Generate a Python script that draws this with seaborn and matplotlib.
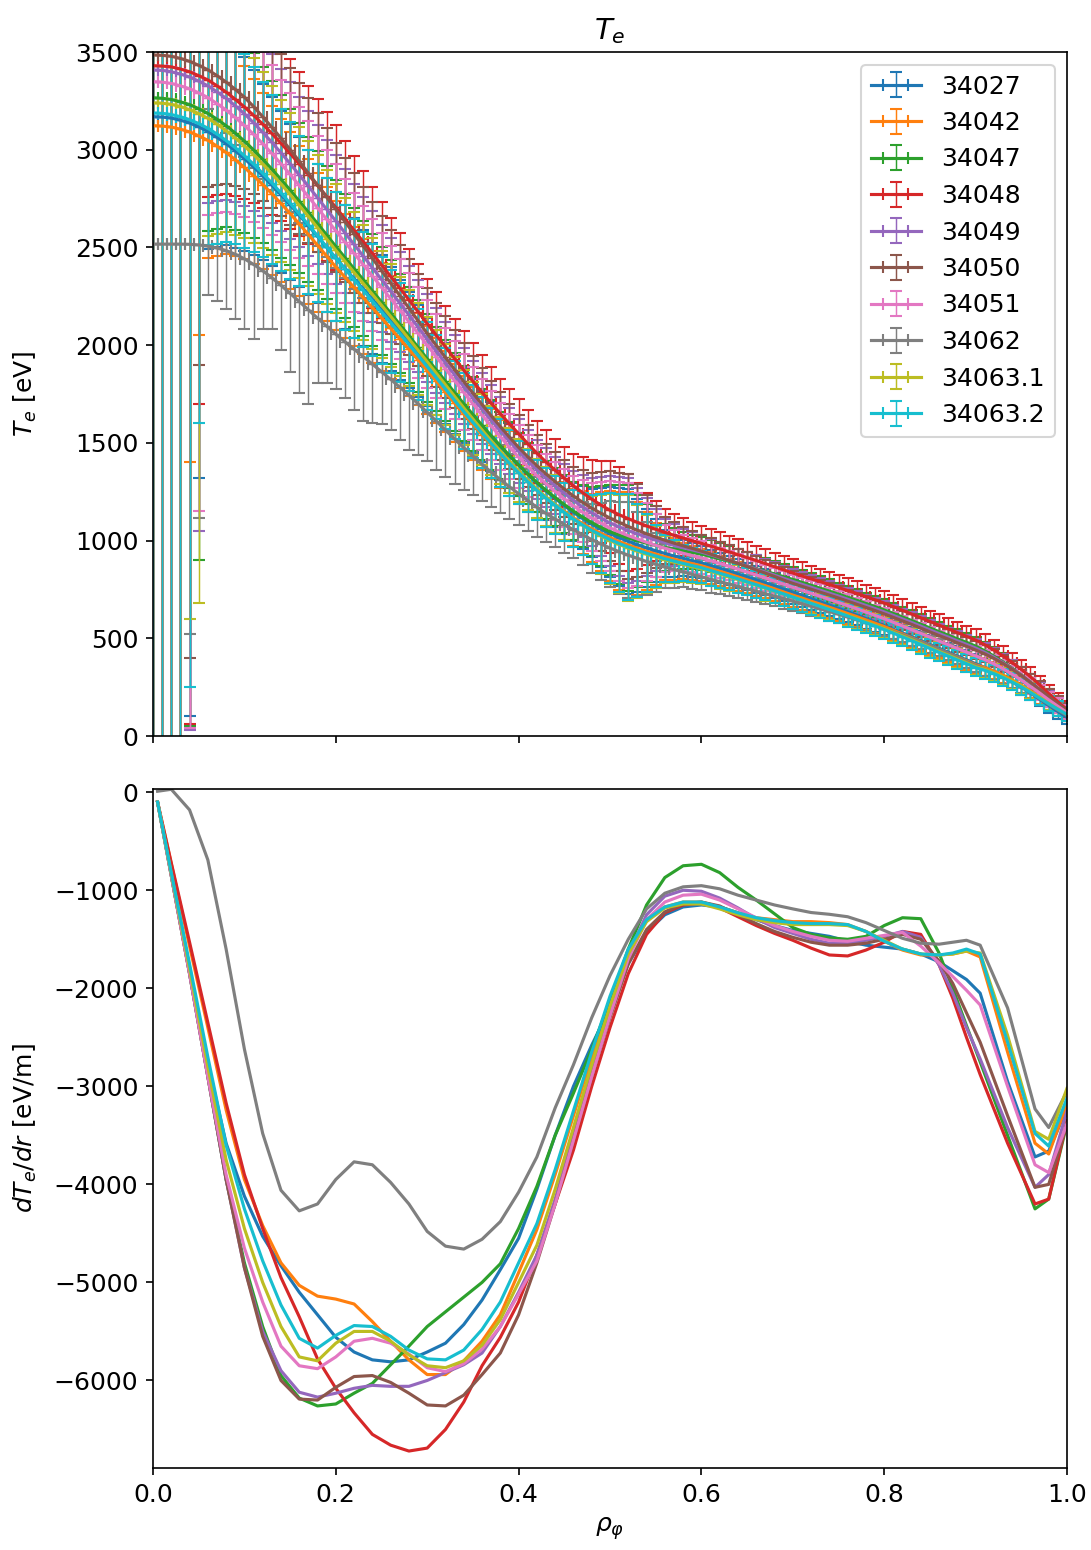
import matplotlib
matplotlib.use("Agg")
import matplotlib.pyplot as plt
import pandas as pd
import seaborn as sns

plt.rcParams.update({
    "font.family": ["DejaVu Sans"],
    "font.size": 12,
    "axes.titlesize": 14,
    "axes.labelsize": 12,
    "xtick.labelsize": 12,
    "ytick.labelsize": 12,
    "legend.fontsize": 12,
})

shots = ["34027", "34042", "34047", "34048", "34049", "34050", "34051",
         "34062", "34063.1", "34063.2"]

# ---------------- top panel: Te fits with error bars ----------------
rho_te = [0.00, 0.01, 0.02, 0.03, 0.04, 0.05, 0.06, 0.07, 0.08, 0.09,
          0.10, 0.11, 0.12, 0.13, 0.14, 0.15, 0.16, 0.17, 0.18, 0.19,
          0.20, 0.21, 0.22, 0.23, 0.24, 0.25, 0.26, 0.27, 0.28, 0.29,
          0.30, 0.31, 0.32, 0.33, 0.34, 0.35, 0.36, 0.37, 0.38, 0.39,
          0.40, 0.41, 0.42, 0.43, 0.44, 0.45, 0.46, 0.47, 0.48, 0.49,
          0.50, 0.51, 0.52, 0.53, 0.54, 0.55, 0.56, 0.57, 0.58, 0.59,
          0.60, 0.61, 0.62, 0.63, 0.64, 0.65, 0.66, 0.67, 0.68, 0.69,
          0.70, 0.71, 0.72, 0.73, 0.74, 0.75, 0.76, 0.77, 0.78, 0.79,
          0.80, 0.81, 0.82, 0.83, 0.84, 0.85, 0.86, 0.87, 0.88, 0.89,
          0.90, 0.91, 0.92, 0.93, 0.94, 0.95, 0.96, 0.97, 0.98, 0.99, 1.00]

te_34027 = [3169, 3167, 3162, 3151, 3137, 3117, 3093, 3063, 3031, 2994,
            2954, 2912, 2867, 2819, 2770, 2718, 2665, 2611, 2556, 2501,
            2445, 2392, 2339, 2287, 2234, 2181, 2128, 2074, 2020, 1965,
            1910, 1855, 1799, 1743, 1688, 1635, 1582, 1531, 1481, 1433,
            1387, 1340, 1295, 1254, 1216, 1179, 1144, 1113, 1084, 1059,
            1035, 1015, 996, 979, 963, 948, 934, 921, 909, 897,
            886, 872, 858, 844, 829, 814, 799, 784, 768, 752,
            736, 720, 703, 687, 670, 653, 636, 619, 601, 583,
            565, 546, 527, 508, 488, 468, 448, 429, 409, 390,
            370, 351, 331, 307, 280, 251, 220, 188, 156, 125, 95]
te_34042 = [3123, 3121, 3116, 3105, 3091, 3071, 3048, 3018, 2986, 2949,
            2909, 2867, 2822, 2775, 2725, 2674, 2620, 2566, 2511, 2456,
            2400, 2348, 2295, 2243, 2191, 2139, 2086, 2033, 1979, 1925,
            1870, 1815, 1759, 1703, 1648, 1595, 1542, 1491, 1441, 1393,
            1347, 1302, 1259, 1220, 1184, 1149, 1116, 1087, 1060, 1037,
            1015, 995, 977, 961, 945, 931, 917, 905, 893, 882,
            871, 857, 843, 829, 814, 799, 784, 769, 753, 737,
            721, 706, 690, 675, 659, 643, 627, 611, 594, 577,
            560, 541, 522, 503, 483, 463, 443, 424, 404, 385,
            365, 350, 332, 311, 287, 260, 231, 201, 169, 140, 110]
te_34047 = [3266, 3263, 3257, 3245, 3231, 3210, 3186, 3156, 3123, 3085,
            3044, 2999, 2951, 2901, 2848, 2794, 2737, 2680, 2622, 2564,
            2505, 2448, 2391, 2335, 2278, 2221, 2164, 2106, 2048, 1989,
            1930, 1873, 1815, 1757, 1700, 1645, 1590, 1537, 1485, 1435,
            1387, 1341, 1297, 1257, 1220, 1184, 1150, 1120, 1092, 1067,
            1045, 1028, 1013, 1000, 987, 976, 965, 956, 947, 939,
            931, 919, 907, 895, 882, 869, 856, 843, 829, 815,
            801, 786, 771, 756, 741, 726, 710, 694, 678, 662,
            645, 627, 609, 591, 572, 553, 534, 516, 497, 479,
            460, 436, 409, 379, 346, 311, 273, 236, 198, 161, 125]
te_34048 = [3430, 3428, 3424, 3413, 3399, 3379, 3357, 3327, 3295, 3258,
            3219, 3176, 3131, 3083, 3033, 2981, 2927, 2873, 2817, 2761,
            2705, 2646, 2587, 2529, 2470, 2411, 2352, 2292, 2232, 2171,
            2110, 2050, 1991, 1931, 1872, 1815, 1758, 1703, 1649, 1597,
            1547, 1496, 1447, 1402, 1360, 1319, 1280, 1245, 1212, 1182,
            1155, 1132, 1112, 1093, 1075, 1058, 1042, 1027, 1013, 999,
            986, 972, 958, 943, 928, 913, 898, 882, 866, 850,
            834, 819, 804, 790, 775, 760, 744, 729, 713, 697,
            680, 662, 643, 624, 605, 586, 567, 548, 529, 510,
            491, 467, 440, 410, 376, 341, 303, 262, 217, 175, 135]
te_34049 = [3408, 3406, 3399, 3387, 3372, 3351, 3327, 3296, 3263, 3225,
            3184, 3138, 3089, 3038, 2984, 2929, 2871, 2813, 2754, 2695,
            2635, 2575, 2515, 2456, 2396, 2336, 2276, 2215, 2154, 2092,
            2030, 1969, 1909, 1848, 1788, 1729, 1672, 1616, 1561, 1508,
            1457, 1408, 1362, 1320, 1280, 1242, 1205, 1172, 1142, 1115,
            1090, 1070, 1051, 1034, 1018, 1003, 989, 976, 964, 952,
            941, 927, 913, 899, 884, 869, 854, 839, 823, 807,
            791, 776, 761, 746, 731, 716, 700, 684, 668, 652,
            635, 617, 599, 581, 562, 543, 524, 506, 487, 469,
            450, 428, 403, 375, 344, 311, 275, 237, 196, 158, 120]
te_34050 = [3485, 3483, 3478, 3467, 3452, 3432, 3409, 3379, 3346, 3309,
            3269, 3221, 3169, 3115, 3059, 3001, 2941, 2880, 2819, 2757,
            2695, 2632, 2569, 2507, 2444, 2381, 2318, 2254, 2190, 2125,
            2060, 1998, 1937, 1875, 1814, 1755, 1696, 1639, 1583, 1529,
            1477, 1429, 1383, 1341, 1302, 1264, 1228, 1196, 1166, 1140,
            1115, 1093, 1072, 1053, 1035, 1018, 1002, 987, 973, 960,
            946, 931, 915, 899, 883, 867, 850, 833, 816, 798,
            781, 766, 751, 736, 721, 706, 690, 674, 658, 642,
            625, 607, 589, 571, 552, 533, 514, 496, 477, 459,
            440, 420, 397, 371, 342, 310, 275, 239, 201, 165, 130]
te_34051 = [3348, 3346, 3339, 3327, 3312, 3291, 3267, 3236, 3203, 3165,
            3124, 3079, 3031, 2981, 2928, 2874, 2817, 2760, 2702, 2644,
            2585, 2527, 2469, 2412, 2354, 2296, 2238, 2179, 2120, 2060,
            2000, 1940, 1879, 1818, 1758, 1700, 1642, 1586, 1531, 1478,
            1427, 1379, 1333, 1291, 1252, 1214, 1178, 1146, 1116, 1090,
            1065, 1044, 1025, 1008, 991, 976, 961, 948, 935, 923,
            911, 897, 883, 869, 854, 839, 824, 809, 793, 777,
            761, 746, 730, 715, 699, 683, 667, 651, 634, 617,
            600, 582, 563, 544, 525, 506, 486, 467, 448, 429,
            410, 391, 369, 344, 316, 286, 253, 220, 185, 152, 120]
te_34062 = [2517, 2517, 2517, 2517, 2516, 2513, 2507, 2497, 2484, 2465,
            2442, 2413, 2381, 2345, 2306, 2265, 2223, 2181, 2138, 2097,
            2056, 2017, 1979, 1941, 1903, 1864, 1825, 1785, 1743, 1700,
            1656, 1611, 1565, 1520, 1475, 1432, 1390, 1350, 1312, 1275,
            1240, 1205, 1170, 1139, 1110, 1082, 1055, 1030, 1005, 983,
            962, 943, 925, 909, 893, 879, 865, 852, 840, 827,
            815, 802, 790, 778, 766, 753, 741, 728, 716, 703,
            690, 677, 664, 650, 637, 623, 609, 595, 580, 565,
            550, 534, 518, 500, 481, 463, 444, 423, 402, 382,
            362, 342, 322, 300, 276, 250, 222, 192, 162, 133, 105]
te_34063_1 = [3240, 3238, 3232, 3221, 3205, 3185, 3161, 3131, 3097, 3060,
              3019, 2975, 2927, 2877, 2825, 2771, 2715, 2659, 2601, 2543,
              2485, 2429, 2372, 2316, 2260, 2204, 2147, 2090, 2032, 1974,
              1915, 1856, 1797, 1738, 1679, 1622, 1566, 1511, 1458, 1406,
              1357, 1309, 1264, 1222, 1184, 1146, 1111, 1079, 1050, 1024,
              1000, 980, 962, 946, 930, 916, 902, 890, 878, 867,
              856, 843, 829, 815, 801, 787, 772, 757, 742, 727,
              711, 696, 680, 665, 649, 633, 617, 601, 584, 567,
              550, 531, 512, 493, 473, 453, 433, 414, 394, 375,
              355, 341, 324, 304, 281, 256, 227, 198, 167, 138, 110]
te_34063_2 = [3188, 3186, 3180, 3169, 3154, 3134, 3110, 3080, 3047, 3010,
              2969, 2926, 2879, 2830, 2779, 2726, 2671, 2616, 2559, 2502,
              2445, 2390, 2335, 2281, 2226, 2171, 2116, 2060, 2004, 1947,
              1890, 1833, 1775, 1717, 1660, 1605, 1550, 1497, 1445, 1395,
              1347, 1301, 1257, 1217, 1180, 1144, 1110, 1080, 1052, 1028,
              1005, 985, 967, 951, 935, 921, 907, 895, 883, 872,
              861, 847, 833, 819, 804, 789, 774, 759, 743, 727,
              711, 695, 679, 663, 647, 631, 614, 597, 580, 563,
              545, 526, 507, 488, 468, 448, 428, 409, 389, 370,
              350, 336, 319, 299, 276, 251, 223, 194, 165, 137, 110]

te_fit = dict(zip(shots, [te_34027, te_34042, te_34047, te_34048, te_34049,
                          te_34050, te_34051, te_34062, te_34063_1, te_34063_2]))

# error bars: first six radial points (rho 0 .. 0.05) per shot
core_lo = {"34027": [3600, 3600, 3500, 3500, 3037, 1797],
           "34042": [3600, 3600, 3500, 3500, 1691, 1021],
           "34047": [3600, 3600, 3500, 3500, 3181, 2310],
           "34048": [3600, 3600, 3500, 3500, 3339, 1679],
           "34049": [3600, 3600, 3500, 3500, 3342, 2301],
           "34050": [3600, 3600, 3500, 3500, 3052, 1532],
           "34051": [3600, 3600, 3500, 3500, 3272, 2141],
           "34062": [3000, 3000, 2900, 2900, 1996, 1398],
           "34063.1": [3600, 3600, 3500, 3500, 2605, 2505],
           "34063.2": [3600, 3600, 3500, 3500, 2904, 1534]}
core_hi = {s: [1500, 1500, 1300, 1300, 1000, 800] for s in shots}
core_hi["34062"] = [1500, 1500, 1300, 1300, 1100, 1000]

# rho 0.06 .. 1.00
tail_lo = [600, 560, 520, 495, 470, 450, 430, 415, 400, 385,
           370, 355, 340, 330, 320, 310, 300, 290, 280, 270,
           260, 250, 240, 230, 220, 212, 205, 198, 190, 185,
           180, 175, 170, 165, 160, 155, 150, 148, 145, 145,
           145, 155, 170, 195, 220, 250, 270, 240, 200, 160,
           120, 105, 90, 85, 80, 78, 75, 72, 70, 68,
           66, 65, 63, 62, 60, 59, 58, 57, 56, 55,
           54, 53, 52, 51, 50, 49, 48, 48, 47, 47,
           46, 46, 45, 45, 44, 43, 42, 41, 40, 39,
           38, 37, 36, 36, 35]
tail_hi = [700, 650, 600, 560, 520, 495, 470, 450, 430, 415,
           400, 385, 370, 355, 340, 325, 310, 300, 290, 280,
           270, 260, 250, 240, 230, 220, 210, 202, 195, 190,
           185, 180, 175, 170, 165, 160, 155, 152, 150, 150,
           150, 165, 180, 210, 240, 255, 270, 235, 200, 160,
           120, 108, 95, 90, 85, 82, 80, 78, 75, 72,
           70, 68, 67, 65, 64, 63, 62, 61, 60, 59,
           58, 57, 56, 55, 54, 53, 52, 52, 51, 50,
           50, 49, 49, 48, 48, 47, 46, 45, 44, 43,
           42, 41, 40, 40, 40]
tail_hi_34048 = [700, 675, 650, 625, 600, 575, 550, 525, 500, 485,
                 470, 455, 440, 430, 420, 400, 380, 360, 340, 320,
                 300, 280, 260, 245, 230, 220, 210, 205, 200, 195,
                 190, 185, 180, 178, 175, 170, 165, 162, 160, 162,
                 165, 182, 200, 225, 250, 245, 230, 200, 170, 145,
                 120, 110, 100, 95, 90, 88, 85, 82, 80, 78,
                 75, 74, 72, 71, 70, 69, 68, 67, 66, 65,
                 64, 63, 62, 61, 60, 59, 58, 58, 57, 56,
                 56, 55, 55, 54, 54, 53, 52, 51, 50, 49,
                 48, 47, 46, 45, 45]
tail_lo_34062 = [250, 270, 300, 330, 360, 380, 300, 260, 330, 400,
                 470, 480, 330, 290, 280, 290, 310, 330, 300, 270,
                 260, 270, 280, 260, 250, 250, 240, 230, 215, 200,
                 190, 180, 170, 165, 160, 155, 150, 148, 145, 145,
                 145, 155, 170, 185, 200, 215, 220, 195, 170, 140,
                 110, 95, 80, 75, 70, 68, 65, 62, 60, 58,
                 56, 55, 53, 52, 50, 49, 48, 47, 46, 45,
                 44, 43, 42, 41, 40, 39, 38, 38, 37, 37,
                 36, 36, 35, 35, 34, 34, 33, 33, 32, 32,
                 31, 31, 30, 30, 30]
xerr_te = 0.005

# ---------------- bottom panel: dTe/dr ----------------
rho_d = [0.005, 0.02, 0.04, 0.06, 0.08, 0.10, 0.12, 0.14, 0.16, 0.18,
         0.20, 0.22, 0.24, 0.26, 0.28, 0.30, 0.32, 0.34, 0.36, 0.38,
         0.40, 0.42, 0.44, 0.46, 0.48, 0.50, 0.52, 0.54, 0.56, 0.58,
         0.60, 0.62, 0.64, 0.66, 0.68, 0.70, 0.72, 0.74, 0.76, 0.78,
         0.80, 0.82, 0.84, 0.86, 0.875, 0.89, 0.905, 0.935, 0.965, 0.98, 1.00]

dte_34027 = [-100, -820, -1790, -2760, -3580, -4120, -4530, -4830, -5100, -5330, -5560, -5710, -5790, -5810, -5790, -5710, -5620, -5430, -5180, -4870, -4550, -4050, -3500, -3000, -2580, -2200, -1750, -1430, -1250, -1170, -1150, -1170, -1230, -1300, -1360, -1410, -1440, -1470, -1520, -1560, -1580, -1600, -1650, -1730, -1820, -1910, -2050, -2950, -3720, -3660, -3220]
dte_34042 = [-100, -730, -1570, -2400, -3240, -3950, -4420, -4800, -5030, -5140, -5170, -5220, -5400, -5600, -5790, -5940, -5940, -5800, -5600, -5330, -4900, -4460, -3900, -3300, -2700, -2120, -1620, -1310, -1170, -1120, -1120, -1170, -1230, -1280, -1300, -1320, -1320, -1330, -1350, -1420, -1520, -1610, -1660, -1660, -1650, -1620, -1680, -2650, -3580, -3690, -3180]
dte_34047 = [-100, -850, -1850, -2900, -3950, -4800, -5450, -5950, -6180, -6260, -6240, -6130, -6030, -5840, -5650, -5450, -5300, -5150, -5000, -4810, -4450, -4020, -3500, -3070, -2620, -2130, -1600, -1150, -870, -750, -735, -820, -970, -1100, -1240, -1380, -1450, -1485, -1500, -1470, -1360, -1280, -1290, -1640, -2000, -2380, -2750, -3500, -4250, -4150, -3380]
dte_34048 = [-100, -720, -1530, -2350, -3170, -3900, -4450, -4950, -5350, -5780, -6080, -6330, -6550, -6660, -6720, -6690, -6500, -6220, -5850, -5560, -5200, -4720, -4200, -3650, -3000, -2400, -1850, -1450, -1230, -1150, -1130, -1180, -1270, -1360, -1440, -1510, -1590, -1660, -1670, -1610, -1530, -1420, -1450, -1760, -2100, -2500, -2880, -3580, -4200, -4150, -3350]
dte_34049 = [-100, -850, -1850, -2900, -3950, -4850, -5500, -5900, -6120, -6170, -6130, -6080, -6050, -6060, -6060, -6000, -5920, -5840, -5720, -5450, -5100, -4720, -4150, -3500, -2850, -2250, -1650, -1250, -1060, -1000, -1010, -1080, -1180, -1290, -1380, -1440, -1500, -1540, -1540, -1510, -1470, -1420, -1480, -1760, -2050, -2400, -2720, -3420, -4030, -3900, -3250]
dte_34050 = [-100, -850, -1850, -2900, -3950, -4850, -5550, -6000, -6190, -6200, -6070, -5960, -5950, -6020, -6130, -6250, -6260, -6150, -5940, -5720, -5330, -4800, -4200, -3550, -2900, -2300, -1750, -1400, -1220, -1140, -1120, -1160, -1250, -1340, -1420, -1480, -1530, -1560, -1560, -1540, -1500, -1450, -1500, -1720, -1950, -2250, -2550, -3300, -4030, -4000, -3380]
dte_34051 = [-100, -850, -1850, -2900, -3900, -4650, -5200, -5650, -5850, -5880, -5760, -5600, -5570, -5620, -5730, -5870, -5910, -5830, -5680, -5450, -5120, -4780, -4200, -3550, -2900, -2280, -1700, -1300, -1120, -1050, -1040, -1100, -1190, -1280, -1360, -1420, -1470, -1510, -1520, -1490, -1460, -1430, -1570, -1740, -1880, -2020, -2170, -3000, -3800, -3880, -3380]
dte_34062 = [10, 30, -180, -690, -1600, -2620, -3480, -4060, -4270, -4200, -3950, -3770, -3800, -3980, -4200, -4480, -4630, -4660, -4560, -4380, -4080, -3720, -3220, -2780, -2300, -1870, -1500, -1190, -1030, -965, -953, -985, -1050, -1100, -1150, -1190, -1227, -1245, -1270, -1330, -1410, -1490, -1540, -1550, -1530, -1510, -1560, -2200, -3230, -3420, -3050]
dte_34063_1 = [-100, -830, -1800, -2800, -3750, -4450, -5000, -5450, -5760, -5800, -5620, -5500, -5500, -5600, -5740, -5850, -5870, -5800, -5640, -5380, -5000, -4620, -4050, -3420, -2780, -2180, -1650, -1320, -1180, -1140, -1140, -1190, -1250, -1300, -1330, -1350, -1350, -1350, -1360, -1420, -1510, -1600, -1650, -1660, -1650, -1620, -1640, -2480, -3460, -3540, -3020]
dte_34063_2 = [-100, -820, -1750, -2700, -3600, -4250, -4780, -5230, -5570, -5670, -5540, -5440, -5450, -5550, -5690, -5780, -5790, -5690, -5480, -5200, -4800, -4400, -3850, -3250, -2650, -2080, -1600, -1300, -1170, -1120, -1120, -1170, -1230, -1280, -1310, -1330, -1340, -1340, -1350, -1420, -1520, -1600, -1650, -1660, -1640, -1600, -1650, -2550, -3480, -3610, -3120]

dte = dict(zip(shots, [dte_34027, dte_34042, dte_34047, dte_34048, dte_34049,
                       dte_34050, dte_34051, dte_34062, dte_34063_1, dte_34063_2]))

# ---------------- figure ----------------
W, H = 1091, 1550
fig = plt.figure(figsize=(W / 150, H / 150), dpi=150)
ax1 = fig.add_axes([153 / W, 1 - 736 / H, 914 / W, 684 / H])
ax2 = fig.add_axes([153 / W, 1 - 1468 / H, 914 / W, 679 / H], sharex=ax1)

colors = sns.color_palette("tab10", 10)

for i, s in enumerate(shots):
    lo = core_lo[s] + (tail_lo_34062 if s == "34062" else tail_lo)
    hi = core_hi[s] + (tail_hi_34048 if s == "34048" else tail_hi)
    ax1.errorbar(rho_te, te_fit[s], yerr=[lo, hi], xerr=xerr_te,
                 color=colors[i], label=s, lw=1.5, elinewidth=0.7,
                 capsize=3.0, capthick=1.0)

ax1.set_xlim(0, 1.0)
ax1.set_ylim(0, 3500)
ax1.set_yticks(range(0, 3501, 500))
ax1.set_title(r"$T_e$")
ax1.set_ylabel(r"$T_e$ [eV]")
ax1.tick_params(labelbottom=False)
ax1.legend(loc="upper right")

rows = []
for s in shots:
    for r, v in zip(rho_d, dte[s]):
        rows.append({"rho": r, "dTdr": v, "shot": s})
df = pd.DataFrame(rows)
sns.lineplot(data=df, x="rho", y="dTdr", hue="shot", hue_order=shots,
             palette=colors, ax=ax2, legend=False, linewidth=1.5,
             estimator=None, sort=False)

ax2.set_xlim(0, 1.0)
ax2.set_ylim(-6893, 33)
ax2.set_yticks([0, -1000, -2000, -3000, -4000, -5000, -6000])
ax2.set_xticks([0.0, 0.2, 0.4, 0.6, 0.8, 1.0])
ax2.set_ylabel(r"$dT_e/dr$ [eV/m]")
ax2.set_xlabel(r"$\rho_\varphi$")

ax1.yaxis.set_label_coords(-0.125, 0.5)
ax2.yaxis.set_label_coords(-0.125, 0.5)

fig.savefig("out.png", dpi=150)
